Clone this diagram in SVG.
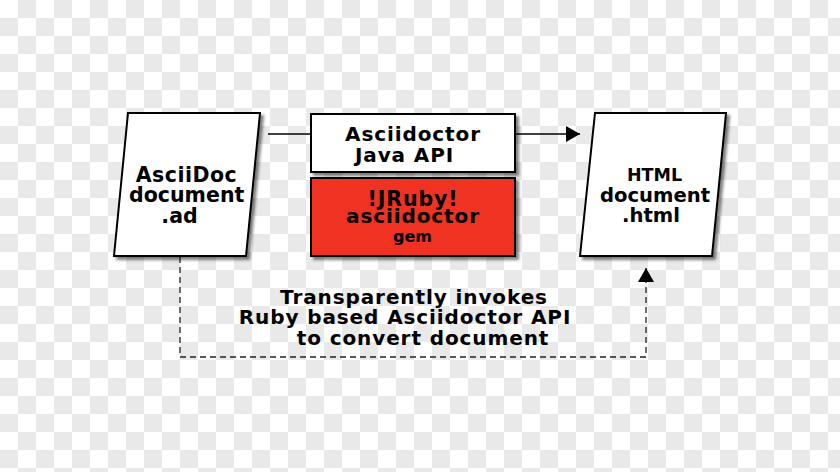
<svg xmlns="http://www.w3.org/2000/svg" width="840" height="472" viewBox="0 0 840 472">
<defs>
<pattern id="checker" x="0" y="0" width="36" height="36" patternUnits="userSpaceOnUse">
<rect width="36" height="36" fill="#ffffff"/>
<rect x="18" y="0" width="18" height="18" fill="#e9e9e9"/>
<rect x="0" y="18" width="18" height="18" fill="#e9e9e9"/>
</pattern>
<filter id="shadow" x="-10%" y="-10%" width="130%" height="130%">
<feGaussianBlur in="SourceAlpha" stdDeviation="1.5"/>
<feOffset dx="3" dy="3" result="b"/>
<feComponentTransfer><feFuncA type="linear" slope="0.5"/></feComponentTransfer>
<feMerge><feMergeNode/><feMergeNode in="SourceGraphic"/></feMerge>
</filter>
<marker id="arrow" viewBox="0 0 14 16" refX="14" refY="8" markerWidth="14" markerHeight="16" markerUnits="userSpaceOnUse" orient="auto">
<path d="M0,0 L14,8 L0,16 Z" fill="#000"/>
</marker>
</defs>
<style>
.box{stroke:#000;stroke-width:2;filter:url(#shadow)}
.t{font-family:"DejaVu Sans",sans-serif;font-weight:bold;fill:#000;text-anchor:middle}
.line{stroke:#000;stroke-width:1.3;fill:none}
.dash{stroke:#222;stroke-width:1.3;fill:none;stroke-dasharray:6,4}
</style>
<rect width="840" height="472" fill="url(#checker)"/>
<g id="connectors">
<line class="line" x1="268" y1="134" x2="311" y2="134"/>
<line class="line" x1="515" y1="134" x2="580" y2="134" marker-end="url(#arrow)"/>
<polyline class="dash" points="180,257 180,357 646,357 646,268" marker-end="url(#arrow)"/>
</g>
<g id="asciidoc">
<polygon class="box" points="128,113 260,113 246,256 114,256" fill="#fff"/>
<text class="t" font-size="20.5" letter-spacing="0.5" x="186.5" y="181.5">AsciiDoc</text>
<text class="t" font-size="20.5" x="186.7" y="201.5">document</text>
<text class="t" font-size="20.5" x="179.5" y="223">.ad</text>
</g>
<g id="java-api">
<rect class="box" x="311" y="114" width="204" height="58" fill="#fff"/>
<text class="t" font-size="20" letter-spacing="0.9" x="413" y="141">Asciidoctor</text>
<text class="t" font-size="20" letter-spacing="0.9" x="404.5" y="161.5">Java API</text>
</g>
<g id="jruby">
<rect class="box" x="311" y="178" width="204" height="78" fill="#ef3324"/>
<text class="t" font-size="20.5" letter-spacing="0.9" x="413" y="205.5">!JRuby!</text>
<text class="t" font-size="20" letter-spacing="0.9" x="413" y="223">asciidoctor</text>
<text class="t" font-size="16" x="412.5" y="241.5">gem</text>
</g>
<g id="html">
<polygon class="box" points="595,113 726,113 712,256 580,256" fill="#fff"/>
<text class="t" font-size="17.5" x="654.5" y="181">HTML</text>
<text class="t" font-size="19.6" x="655" y="201.5">document</text>
<text class="t" font-size="19.6" x="651" y="222">.html</text>
</g>
<g id="label">
<text class="t" font-size="20" letter-spacing="0.9" x="414" y="304">Transparently invokes</text>
<text class="t" font-size="20" letter-spacing="0.9" x="405" y="324">Ruby based Asciidoctor API</text>
<text class="t" font-size="20" letter-spacing="0.9" x="423" y="345">to convert document</text>
</g>
</svg>
